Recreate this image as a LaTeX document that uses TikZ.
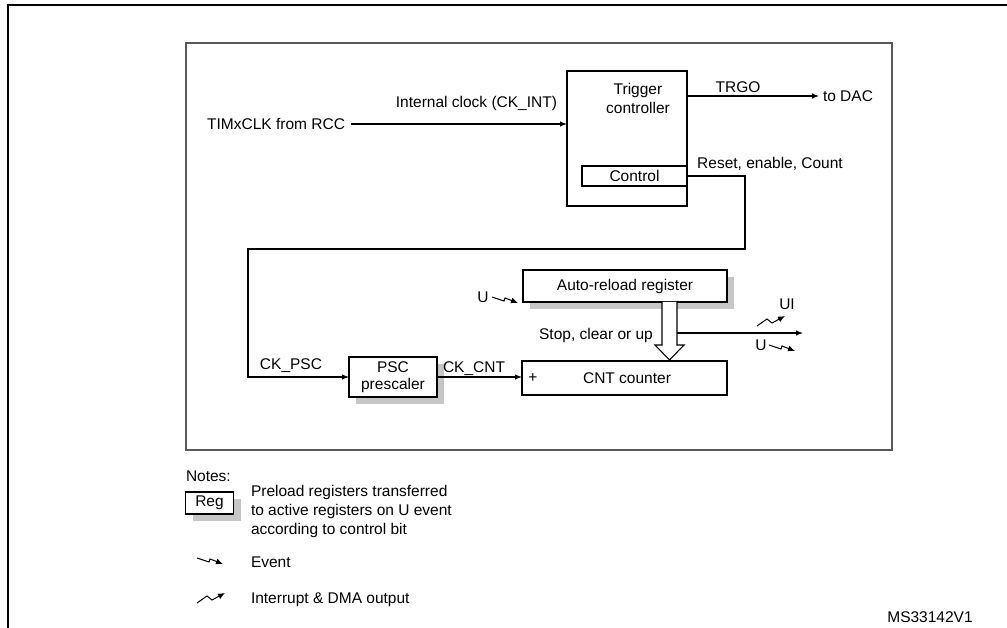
\documentclass[tikz,border=0pt]{standalone}
\usepackage{fontspec}
\setmainfont{Liberation Sans}
\usetikzlibrary{arrows.meta,positioning,shadows}
\tikzset{lbl/.style={draw=none, fill=none, inner sep=0pt, outer sep=0pt},
  blk/.style={draw, fill=white, line width=1.2pt, inner sep=0pt, outer sep=0pt},
  shd/.style={drop shadow={shadow xshift=7pt, shadow yshift=-7pt,
    fill=black!22, opacity=1}},
  evt/.pic={\draw[line width=1pt, -{Latex[length=7pt,width=6pt]}]
    (0,0) -- (12,4) -- (13,1) -- (26,6);},
  intr/.pic={\draw[line width=1pt, -{Latex[length=7pt,width=6pt]}]
    (0,0) -- (10,-7) -- (15,-3) -- (28,-10);}}

\begin{document}
\begin{tikzpicture}[x=1pt, y=-1pt, >={Latex[length=7pt,width=5.5pt]},
  every node/.style={font=\fontsize{15.5}{19}\selectfont}, line width=1.1pt]
  \useasboundingbox (0,0) rectangle (1007,628);
  % page frame
  \draw[line width=1.8pt] (8,628) -- (8,5) -- (1007,5);
  \draw[line width=1.8pt, draw=black!65] (186,43) rectangle (892,450);
  % trigger controller
  \node[blk, minimum width=120pt, minimum height=135pt] (trig) at (627,138.5) {};
  \node[lbl, align=center] (trigtxt) at (638,98) {Trigger\\controller};
  \node[blk, minimum width=105pt, minimum height=20pt] (ctrl) at (634.5,176) {Control};
  % clock input
  \node[lbl, anchor=east, inner xsep=6pt] (clk) at (351,124) {TIMxCLK from RCC};
  \draw[->] (clk.east) -- (clk.east -| trig.west)
    node[lbl, above left=13pt and 10pt] {Internal clock (CK\_INT)};
  % TRGO output
  \node[lbl, anchor=west, inner xsep=4pt] (dac) at (819,96) {to DAC};
  \draw[->] (trig.east |- dac.west) -- (dac.west);
  \node[lbl] (trgo) at (738,87) {TRGO};
  % prescaler and counter
  \node[blk, shd, minimum width=88pt, minimum height=40pt, align=center] (psc)
    at (393,377) {PSC\\[-2pt]prescaler};
  \node[blk, minimum width=205pt, minimum height=34pt] (cnt) at (624.5,378) {};
  \node[lbl] (cnttxt) at (627,378) {CNT counter};
  \node[lbl] (plus) at (533,378) {+};
  \node[blk, shd, minimum width=204pt, minimum height=32pt] (arr) at (625,286)
    {Auto-reload register};
  % control path
  \draw[->] (ctrl.east) -- (745,176) -- (745,249) -- (248,249) |- (psc.west);
  \node[lbl] (rst) at (770,164) {Reset, enable, Count};
  \node[lbl] (ckpsc) at (291,366) {CK\_PSC};
  \draw[->] (psc.east) -- (psc.east -| cnt.west);
  \node[lbl] (ckcnt) at (474,369) {CK\_CNT};
  % update event into ARR
  \node[lbl] (uin) at (483,297) {U};
  \pic at (492,297) {evt};
  % transfer arrow
  \draw[fill=white] (arr.south -| 662,0) -- (662,345) -- (655,345) -- (669.5,360)
    -- (684,345) -- (677,345) -- (arr.south -| 677,0);
  \node[lbl] (stop) at (596,335) {Stop, clear or up};
  % outputs
  \coordinate (out) at (803,333);
  \draw[->] (677,333) -- (out);
  \pic at (757,326) {intr};
  \node[lbl] (ui) at (787,304) {UI};
  \node[lbl] (uout) at (761,345) {U};
  \pic at (769,345) {evt};
  % notes
  \node[lbl, anchor=west] (notes) at (186,476) {Notes:};
  \node[blk, shd, minimum width=48pt, minimum height=22pt] (reg) at (209.5,503) {Reg};
  \node[lbl, anchor=north west, align=left] (pre) at (251,485)
    {Preload registers transferred\\to active registers on U event\\according to control bit};
  \pic at (197,558) {evt};
  \node[lbl, anchor=west] (event) at (251,562) {Event};
  \pic at (197,603) {intr};
  \node[lbl, anchor=west] (irq) at (251,600) {Interrupt \& DMA output};
  \node[lbl] (ref) at (930,617) {MS33142V1};
\end{tikzpicture}
\end{document}
